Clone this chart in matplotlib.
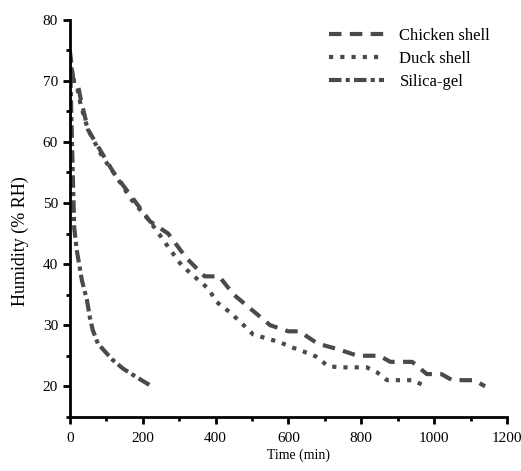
import matplotlib.pyplot as plt
from matplotlib.ticker import MultipleLocator

plt.rcParams['font.family'] = ['Liberation Serif', 'DejaVu Serif']

# data
chicken_t = [0, 10, 20, 30, 50, 90, 120, 170, 220, 270, 320, 370, 410, 450,
             510, 550, 600, 630, 680, 740, 790, 850, 880, 940, 980, 1020,
             1050, 1110, 1140]
chicken_rh = [75, 70, 70, 67, 62, 58, 55, 51, 47, 45, 41, 38, 38, 35,
              32, 30, 29, 29, 27, 26, 25, 25, 24, 24, 22, 22,
              21, 21, 20]

duck_t = [0, 10, 20, 30, 50, 90, 120, 170, 220, 280, 307, 343, 380, 403,
          440, 472, 503, 577, 609, 641, 675, 709, 742, 778, 815, 843, 871,
          907, 942, 976]
duck_rh = [74, 70, 69, 66, 62, 57.5, 55, 50.5, 47, 42, 39.8, 37.9, 36, 33.8,
           32.1, 30.3, 28.5, 27.2, 26.4, 25.7, 24.9, 23.3, 23.1, 23.1, 23.1,
           22.3, 21, 21, 21, 20]

silica_t = [0, 4, 8, 12, 19, 33, 47, 55, 63, 77, 101, 118, 146, 183, 225]
silica_rh = [75, 65, 55, 46, 42.3, 37.4, 34.1, 31.3, 29.2, 27, 25.4, 24.3,
             22.9, 21.5, 20]

col = '#4a4a4a'

fig = plt.figure(figsize=(5.21, 4.71), dpi=100)
ax = fig.add_axes([0.134, 0.115, 0.839, 0.843])

ax.plot(chicken_t, chicken_rh, color=col, lw=3, ls=(0, (3, 2)), label='Chicken shell')
ax.plot(duck_t, duck_rh, color=col, lw=3, ls=(0, (1, 1.7)), label='Duck shell')
ax.plot(silica_t, silica_rh, color=col, lw=3, ls=(0, (3, 1, 1, 1)), label='Silica-gel')

ax.set_xlim(0, 1200)
ax.set_ylim(15, 80)
ax.xaxis.set_major_locator(MultipleLocator(200))
ax.xaxis.set_minor_locator(MultipleLocator(100))
ax.yaxis.set_minor_locator(MultipleLocator(5))
ax.set_yticks([20, 30, 40, 50, 60, 70, 80])

for s in ['top', 'right']:
    ax.spines[s].set_visible(False)
for s in ['left', 'bottom']:
    ax.spines[s].set_linewidth(2)

ax.tick_params(which='major', direction='out', length=5, width=2, labelsize=11)
ax.tick_params(which='minor', direction='out', length=3, width=2)
ax.tick_params(axis='x', which='major', pad=6)

ax.set_xlabel('Time (min)', fontsize=10)
ax.xaxis.set_label_coords(0.524, -0.081)
ax.set_ylabel('Humidity (% RH)', fontsize=13)
ax.yaxis.set_label_coords(-0.094, 0.443)

ax.legend(loc='upper right', frameon=False, fontsize=12, handlelength=3.3,
          handletextpad=0.9, labelspacing=0.42, borderaxespad=0,
          bbox_to_anchor=(0.977, 0.997))

fig.savefig('out.png', dpi=100)
